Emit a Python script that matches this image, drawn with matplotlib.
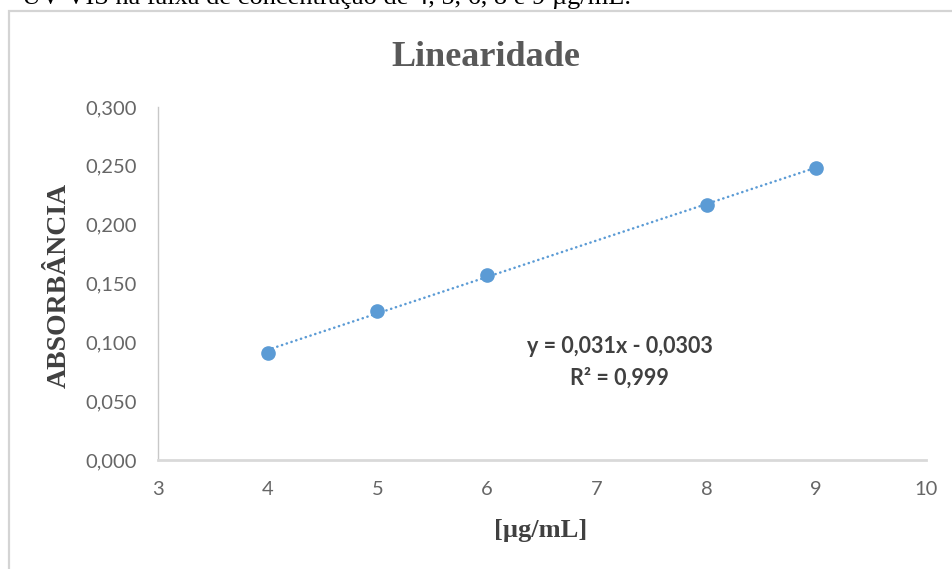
import numpy as np
import matplotlib
matplotlib.use("Agg")
import matplotlib.pyplot as plt
from matplotlib.patches import Rectangle

conc = [4, 5, 6, 8, 9]
absorb = [0.091, 0.127, 0.157, 0.217, 0.248]
xticks = [3, 4, 5, 6, 7, 8, 9, 10]
yticks = [0.0, 0.05, 0.10, 0.15, 0.20, 0.25, 0.30]
eq_text = "y = 0,031x - 0,0303\nR² = 0,999"
caption = "UV-VIS na faixa de concentração de 4, 5, 6, 8 e 9 µg/mL."

blue = "#5B9BD5"
grey = "#595959"

fig = plt.figure(figsize=(9.53, 5.69), dpi=100)
ax = fig.add_axes([158/953, 1-460/569, (926-158)/953, (460-107)/569])

# trendline from a linear fit of the points
coef = np.polyfit(conc, absorb, 1)
xs = np.array([min(conc), max(conc)])
ax.plot(xs, np.polyval(coef, xs), color=blue, lw=1.8, linestyle=(0, (0.1, 1.9)),
        dash_capstyle="round", zorder=2)
ax.plot(conc, absorb, "o", color=blue, markersize=9.5, zorder=3)

ax.set_xlim(3, 10)
ax.set_ylim(0, 0.3)
ax.set_xticks(xticks)
ax.set_yticks(yticks)
ax.set_yticklabels([("%.3f" % v).replace(".", ",") for v in yticks])
ax.tick_params(length=0, labelsize=14.5, labelcolor="#666666", pad=15)
for lab in ax.get_xticklabels() + ax.get_yticklabels():
    lab.set_family("Lato")

for s in ["top", "right"]:
    ax.spines[s].set_visible(False)
ax.spines["left"].set_color("#c8c8c8")
ax.spines["left"].set_linewidth(1.0)
ax.spines["bottom"].set_color("#d9d9d9")
ax.spines["bottom"].set_linewidth(2.0)

ax.text(7.21, 0.083, eq_text, ha="center", va="center", fontsize=15.5,
        fontweight="bold", color="#404040", family="Lato", linespacing=1.55)

fig.text(486/953, 1-57/569, "Linearidade", ha="center", va="center",
         fontsize=26, fontweight="bold", color=grey, family="Liberation Serif")
fig.text(59/953, 1-285/569, "ABSORBÂNCIA", ha="center", va="center", rotation=90,
         fontsize=20, fontweight="bold", color="#404040", family="Liberation Serif")
fig.text(541/953, 1-530/569, "[µg/mL]", ha="center", va="center",
         fontsize=19, fontweight="bold", color="#404040", family="Liberation Serif")

# caption of the page, cut by the top edge
fig.text(22/953, 1-4/569, caption, ha="left", va="baseline",
         fontsize=19, color="black", family="Liberation Serif")

fig.add_artist(Rectangle((9.5/953, -0.1), 1.2, 1.1 - 11/569, transform=fig.transFigure,
                         fill=False, ec="#d4d4d4", lw=1.6))

plt.savefig("out.png", dpi=100)
